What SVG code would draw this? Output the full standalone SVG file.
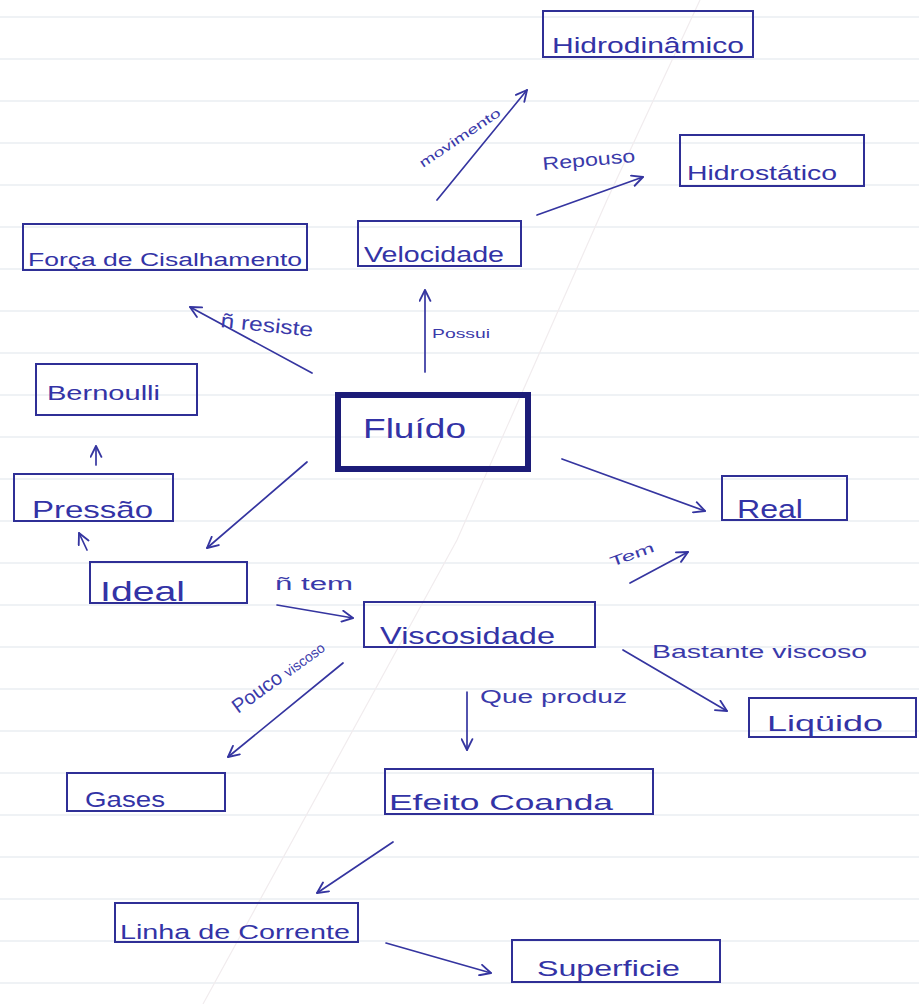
<svg xmlns="http://www.w3.org/2000/svg" width="919" height="1004" viewBox="0 0 919 1004">
<defs>
<style>
.ruled{stroke:#dfe5ec;stroke-width:1.2}
.box{fill:none;stroke:#2f2f96;stroke-width:2}
.big{fill:none;stroke:#1c1c78;stroke-width:6}
.t{font-family:"Liberation Sans","DejaVu Sans",sans-serif;fill:#3333a6}
.lbl{font-family:"Liberation Sans","DejaVu Sans",sans-serif;fill:#3a3aaa}
.edge{fill:none;stroke:#3535a0;stroke-width:1.7;stroke-linecap:round}
</style>
<marker id="ah" viewBox="0 0 12 12" refX="11" refY="6" markerWidth="13" markerHeight="13" markerUnits="userSpaceOnUse" orient="auto">
<path d="M1,1 L11,6 L1,11" fill="none" stroke="#3535a0" stroke-width="1.7" stroke-linecap="round" stroke-linejoin="round"/>
</marker>
</defs>
<rect width="919" height="1004" fill="#ffffff"/>
<g id="paper">
<line class="ruled" x1="0" y1="17" x2="919" y2="17"/>
<line class="ruled" x1="0" y1="59" x2="919" y2="59"/>
<line class="ruled" x1="0" y1="101" x2="919" y2="101"/>
<line class="ruled" x1="0" y1="143" x2="919" y2="143"/>
<line class="ruled" x1="0" y1="185" x2="919" y2="185"/>
<line class="ruled" x1="0" y1="227" x2="919" y2="227"/>
<line class="ruled" x1="0" y1="269" x2="919" y2="269"/>
<line class="ruled" x1="0" y1="311" x2="919" y2="311"/>
<line class="ruled" x1="0" y1="353" x2="919" y2="353"/>
<line class="ruled" x1="0" y1="395" x2="919" y2="395"/>
<line class="ruled" x1="0" y1="437" x2="919" y2="437"/>
<line class="ruled" x1="0" y1="479" x2="919" y2="479"/>
<line class="ruled" x1="0" y1="521" x2="919" y2="521"/>
<line class="ruled" x1="0" y1="563" x2="919" y2="563"/>
<line class="ruled" x1="0" y1="605" x2="919" y2="605"/>
<line class="ruled" x1="0" y1="647" x2="919" y2="647"/>
<line class="ruled" x1="0" y1="689" x2="919" y2="689"/>
<line class="ruled" x1="0" y1="731" x2="919" y2="731"/>
<line class="ruled" x1="0" y1="773" x2="919" y2="773"/>
<line class="ruled" x1="0" y1="815" x2="919" y2="815"/>
<line class="ruled" x1="0" y1="857" x2="919" y2="857"/>
<line class="ruled" x1="0" y1="899" x2="919" y2="899"/>
<line class="ruled" x1="0" y1="941" x2="919" y2="941"/>
<line class="ruled" x1="0" y1="983" x2="919" y2="983"/>
<path d="M700,0 L607,200 L457,540 L203,1004" fill="none" stroke="#f1ecee" stroke-width="1.2"/>
</g>
<g id="connectors">
<line class="edge" x1="437" y1="200" x2="527" y2="90" marker-end="url(#ah)"/>
<line class="edge" x1="537" y1="215" x2="643" y2="177" marker-end="url(#ah)"/>
<line class="edge" x1="425" y1="372" x2="425" y2="290" marker-end="url(#ah)"/>
<line class="edge" x1="312" y1="373" x2="190" y2="307" marker-end="url(#ah)"/>
<line class="edge" x1="96" y1="465" x2="96" y2="446" marker-end="url(#ah)"/>
<line class="edge" x1="87" y1="550" x2="79" y2="533" marker-end="url(#ah)"/>
<line class="edge" x1="307" y1="462" x2="207" y2="548" marker-end="url(#ah)"/>
<line class="edge" x1="562" y1="459" x2="705" y2="511" marker-end="url(#ah)"/>
<line class="edge" x1="630" y1="583" x2="688" y2="552" marker-end="url(#ah)"/>
<line class="edge" x1="277" y1="605" x2="353" y2="618" marker-end="url(#ah)"/>
<line class="edge" x1="343" y1="663" x2="228" y2="757" marker-end="url(#ah)"/>
<line class="edge" x1="467" y1="692" x2="467" y2="750" marker-end="url(#ah)"/>
<line class="edge" x1="623" y1="650" x2="727" y2="711" marker-end="url(#ah)"/>
<line class="edge" x1="393" y1="842" x2="317" y2="893" marker-end="url(#ah)"/>
<line class="edge" x1="386" y1="943" x2="491" y2="973" marker-end="url(#ah)"/>
<text class="lbl" font-size="13" transform="translate(423,168) rotate(-34)" textLength="95" lengthAdjust="spacingAndGlyphs">movimento</text>
<text class="lbl" font-size="18" transform="translate(543,170) rotate(-5)" textLength="93" lengthAdjust="spacingAndGlyphs">Repouso</text>
<text class="lbl" x="432" y="338" font-size="13" textLength="58" lengthAdjust="spacingAndGlyphs">Possui</text>
<text class="lbl" font-size="20" transform="translate(220,327) rotate(6)" textLength="93" lengthAdjust="spacingAndGlyphs">ñ resiste</text>
<text class="lbl" font-size="14" transform="translate(612,567) rotate(-20)" textLength="46" lengthAdjust="spacingAndGlyphs">Tem</text>
<text class="lbl" x="275" y="590" font-size="18" textLength="78" lengthAdjust="spacingAndGlyphs">ñ tem</text>
<text class="lbl" transform="translate(238,714) rotate(-36)"><tspan font-size="20">Pouco </tspan><tspan font-size="14">viscoso</tspan></text>
<text class="lbl" x="480" y="703" font-size="18" textLength="147" lengthAdjust="spacingAndGlyphs">Que produz</text>
<text class="lbl" x="652" y="658" font-size="18" textLength="215" lengthAdjust="spacingAndGlyphs">Bastante viscoso</text>
</g>
<g id="n-hidrodinamico">
<rect class="box" x="543" y="11" width="210" height="46"/>
<text class="t" x="552" y="53" font-size="22" textLength="192" lengthAdjust="spacingAndGlyphs">Hidrodinâmico</text>
</g>
<g id="n-hidrostatico">
<rect class="box" x="680" y="135" width="184" height="51"/>
<text class="t" x="687" y="180" font-size="21" textLength="150" lengthAdjust="spacingAndGlyphs">Hidrostático</text>
</g>
<g id="n-velocidade">
<rect class="box" x="358" y="221" width="163" height="45"/>
<text class="t" x="364" y="262" font-size="22" textLength="140" lengthAdjust="spacingAndGlyphs">Velocidade</text>
</g>
<g id="n-forca">
<rect class="box" x="23" y="224" width="284" height="46"/>
<text class="t" x="28" y="266" font-size="18" textLength="274" lengthAdjust="spacingAndGlyphs">Força de Cisalhamento</text>
</g>
<g id="n-bernoulli">
<rect class="box" x="36" y="364" width="161" height="51"/>
<text class="t" x="47" y="400" font-size="21" textLength="113" lengthAdjust="spacingAndGlyphs">Bernoulli</text>
</g>
<g id="n-fluido">
<rect class="big" x="338" y="395" width="190" height="74"/>
<text class="t" x="363" y="438" font-size="28" textLength="103" lengthAdjust="spacingAndGlyphs" fill="#2a2a90">Fluído</text>
</g>
<g id="n-pressao">
<rect class="box" x="14" y="474" width="159" height="47"/>
<text class="t" x="32" y="518" font-size="24" textLength="121" lengthAdjust="spacingAndGlyphs">Pressão</text>
</g>
<g id="n-ideal">
<rect class="box" x="90" y="562" width="157" height="41"/>
<text class="t" x="100" y="601" font-size="28" textLength="85" lengthAdjust="spacingAndGlyphs">Ideal</text>
</g>
<g id="n-real">
<rect class="box" x="722" y="476" width="125" height="44"/>
<text class="t" x="737" y="518" font-size="26" textLength="66" lengthAdjust="spacingAndGlyphs">Real</text>
</g>
<g id="n-viscosidade">
<rect class="box" x="364" y="602" width="231" height="45"/>
<text class="t" x="380" y="644" font-size="24" textLength="175" lengthAdjust="spacingAndGlyphs">Viscosidade</text>
</g>
<g id="n-liquido">
<rect class="box" x="749" y="698" width="167" height="39"/>
<text class="t" x="767" y="731" font-size="22" textLength="116" lengthAdjust="spacingAndGlyphs">Liqüido</text>
</g>
<g id="n-gases">
<rect class="box" x="67" y="773" width="158" height="38"/>
<text class="t" x="85" y="807" font-size="22" textLength="80" lengthAdjust="spacingAndGlyphs">Gases</text>
</g>
<g id="n-efeito">
<rect class="box" x="385" y="769" width="268" height="45"/>
<text class="t" x="389" y="810" font-size="22" textLength="224" lengthAdjust="spacingAndGlyphs">Efeito Coanda</text>
</g>
<g id="n-linha">
<rect class="box" x="115" y="903" width="243" height="39"/>
<text class="t" x="120" y="939" font-size="20" textLength="230" lengthAdjust="spacingAndGlyphs">Linha de Corrente</text>
</g>
<g id="n-superficie">
<rect class="box" x="512" y="940" width="208" height="42"/>
<text class="t" x="537" y="976" font-size="22" textLength="143" lengthAdjust="spacingAndGlyphs">Superficie</text>
</g>
</svg>
